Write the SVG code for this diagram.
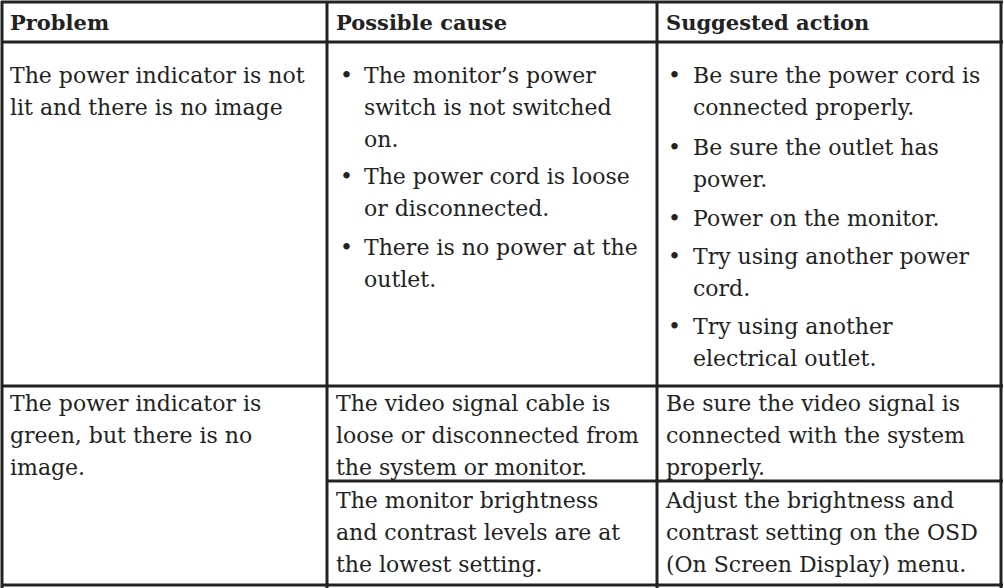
<svg xmlns="http://www.w3.org/2000/svg" width="1004" height="588" viewBox="0 0 1004 588">
<style>
text{font-family:"DejaVu Serif","Liberation Serif",serif;font-size:22px;fill:#222}
.h{font-weight:bold;font-size:21px}
line{stroke:#222;stroke-width:3}
</style>
<rect width="1004" height="588" fill="#fff"/>
<g id="grid">
<line x1="1" y1="2" x2="1003" y2="2"/>
<line x1="1" y1="42" x2="1003" y2="42"/>
<line x1="1" y1="386" x2="1003" y2="386"/>
<line x1="327" y1="481" x2="1003" y2="481"/>
<line x1="1" y1="585" x2="1003" y2="585"/>
<line x1="2" y1="1" x2="2" y2="588"/>
<line x1="327" y1="1" x2="327" y2="588"/>
<line x1="657" y1="1" x2="657" y2="588"/>
<line x1="1001" y1="1" x2="1001" y2="588"/>
</g>
<g id="header">
<text class="h" x="10" y="30">Problem</text>
<text class="h" x="336" y="30">Possible cause</text>
<text class="h" x="666" y="30">Suggested action</text>
</g>
<g id="row1">
<text x="10" y="83">The power indicator is not</text>
<text x="10" y="115">lit and there is no image</text>
<text x="340" y="83">•</text><text x="364" y="83">The monitor’s power</text>
<text x="364" y="115">switch is not switched</text>
<text x="364" y="147">on.</text>
<text x="340" y="184">•</text><text x="364" y="184">The power cord is loose</text>
<text x="364" y="216">or disconnected.</text>
<text x="340" y="255">•</text><text x="364" y="255">There is no power at the</text>
<text x="364" y="287">outlet.</text>
<text x="668" y="83">•</text><text x="693" y="83">Be sure the power cord is</text>
<text x="693" y="115">connected properly.</text>
<text x="668" y="155">•</text><text x="693" y="155">Be sure the outlet has</text>
<text x="693" y="187">power.</text>
<text x="668" y="226">•</text><text x="693" y="226">Power on the monitor.</text>
<text x="668" y="264">•</text><text x="693" y="264">Try using another power</text>
<text x="693" y="296">cord.</text>
<text x="668" y="334">•</text><text x="693" y="334">Try using another</text>
<text x="693" y="366">electrical outlet.</text>
</g>
<g id="row2">
<text x="10" y="411">The power indicator is</text>
<text x="10" y="443">green, but there is no</text>
<text x="10" y="475">image.</text>
<text x="336" y="411">The video signal cable is</text>
<text x="336" y="443">loose or disconnected from</text>
<text x="336" y="475">the system or monitor.</text>
<text x="666" y="411">Be sure the video signal is</text>
<text x="666" y="443">connected with the system</text>
<text x="666" y="475">properly.</text>
</g>
<g id="row3">
<text x="336" y="508">The monitor brightness</text>
<text x="336" y="540">and contrast levels are at</text>
<text x="336" y="572">the lowest setting.</text>
<text x="666" y="508">Adjust the brightness and</text>
<text x="666" y="540">contrast setting on the OSD</text>
<text x="666" y="572">(On Screen Display) menu.</text>
</g>
</svg>
